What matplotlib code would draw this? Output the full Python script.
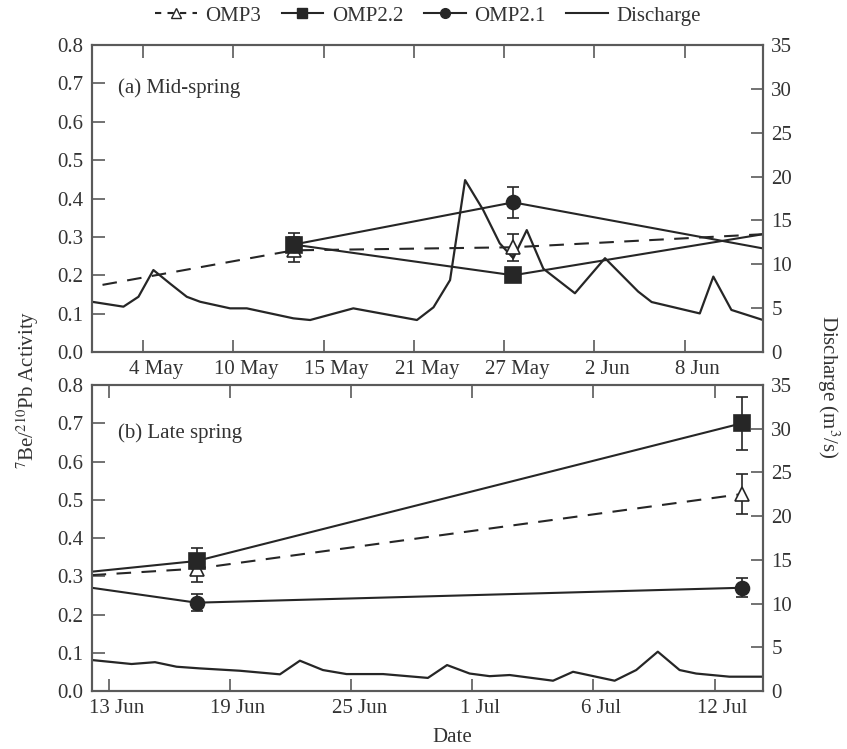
import numpy as np
import matplotlib
matplotlib.use("Agg")
import matplotlib.pyplot as plt
from matplotlib.lines import Line2D
from matplotlib.transforms import ScaledTranslation

plt.rcParams['font.family'] = ['Liberation Serif', 'DejaVu Serif']
plt.rcParams['mathtext.fontset'] = 'stix'

# x values are days from the first tick of each panel
# (a) mid-spring: first tick = "4 May"
a_ticks = [0, 6, 12, 18, 24, 30, 36]
a_ticklabels = ['4 May', '10 May', '15 May', '21 May', '27 May', '2 Jun', '8 Jun']
a_q_day = [-3.41, -1.31, -0.31, 0.68, 1.79, 2.9, 3.79, 5.78, 6.89, 9.99, 11.1, 13.97,
           18.2, 19.3, 20.4, 21.4, 22.6, 23.7, 24.6, 25.5, 26.6, 28.7, 30.7, 32.9,
           33.8, 37.0, 37.9, 39.1, 41.2]
a_q = [5.73, 5.17, 6.3, 9.35, 7.8, 6.3, 5.73, 4.98, 4.98, 3.84, 3.65, 4.98,
       3.65, 5.1, 8.2, 19.6, 16.2, 12.4, 10.7, 13.9, 9.5, 6.7, 10.7, 6.9,
       5.7, 4.4, 8.6, 4.8, 3.65]
a_omp3_day = [-2.7, 10.0, 24.6, 41.2]
a_omp3 = [0.175, 0.265, 0.273, 0.307]
a_omp3_err = [0.0, 0.03, 0.035, 0.0]
a_omp22_day = [10.0, 24.6, 41.2]
a_omp22 = [0.28, 0.20, 0.307]
a_omp22_err = [0.03, 0.012, 0.0]
a_omp21_day = [10.0, 24.6, 41.2]
a_omp21 = [0.28, 0.39, 0.27]
a_omp21_err = [0.02, 0.04, 0.0]

# (b) late spring: first tick = "13 Jun"
b_ticks = [0, 6, 12, 18, 24, 30]
b_ticklabels = ['13 Jun', '19 Jun', '25 Jun', '1 Jul', '6 Jul', '12 Jul']
b_q_day = [-0.86, 1.12, 2.28, 3.35, 4.5, 6.49, 8.47, 9.46, 10.6, 11.77, 13.58, 15.8,
           16.75, 17.87, 18.86, 19.85, 22.0, 22.99, 25.05, 26.12, 27.19, 28.27, 29.09,
           30.74, 32.39]
b_q = [3.55, 3.09, 3.3, 2.78, 2.59, 2.32, 1.91, 3.47, 2.4, 1.94, 1.94, 1.5,
       2.97, 2.0, 1.7, 1.83, 1.18, 2.2, 1.18, 2.4, 4.5, 2.4, 2.0, 1.64, 1.64]
b_omp3_day = [-0.86, 4.34, 31.35]
b_omp3 = [0.303, 0.32, 0.515]
b_omp3_err = [0.0, 0.035, 0.053]
b_omp22_day = [-0.86, 4.34, 31.35]
b_omp22 = [0.312, 0.34, 0.70]
b_omp22_err = [0.0, 0.035, 0.07]
b_omp21_day = [-0.86, 4.34, 31.35]
b_omp21 = [0.27, 0.231, 0.27]
b_omp21_err = [0.0, 0.023, 0.025]

ink = '#262626'
spine_c = '#5a5a5a'
fs = 15

fig = plt.figure(figsize=(8.47, 7.49), dpi=100)
ax_a = fig.add_axes([0.1086, 0.530, 0.7922, 0.4099])
ax_b = fig.add_axes([0.1086, 0.0774, 0.7922, 0.4085])


def draw_series(ax, day, val, err, marks, ls, marker, mfc, ms):
    day = np.array(day)
    val = np.array(val)
    err = np.array(err)
    ax.plot(day, val, color=ink, ls=ls, lw=1.5, dashes=(7, 5) if ls == '--' else (None, None))
    m = np.array(marks)
    ax.errorbar(day[m], val[m], yerr=err[m], fmt=marker, color=ink, mfc=mfc,
                mec=ink, ms=ms, mew=1.2, ecolor=ink, elinewidth=1.2, capsize=4.5,
                ls='none', zorder=5)


def style(ax, axq, ticks, labels, xlim, dx):
    ax.set_xlim(*xlim)
    ax.set_ylim(0, 0.8)
    ax.set_yticks(np.arange(0, 0.81, 0.1))
    ax.set_yticklabels(['%.1f' % v for v in np.arange(0, 0.81, 0.1)])
    ax.set_xticks(ticks)
    ax.set_xticklabels(labels)
    ax.tick_params(axis='both', direction='in', length=9, width=1.2, color=spine_c,
                   labelsize=fs, labelcolor='#333333', pad=6)
    ax.tick_params(axis='x', top=True)
    axq.set_ylim(0, 35)
    axq.set_yticks(np.arange(0, 36, 5))
    axq.tick_params(axis='y', direction='in', length=9, width=1.2, color=spine_c,
                    labelsize=fs, labelcolor='#333333', pad=6)
    for a in (ax, axq):
        for s in a.spines.values():
            s.set_color(spine_c)
            s.set_linewidth(1.5)
    off = ScaledTranslation(dx / 100, 0, fig.dpi_scale_trans)
    for lab in ax.get_xticklabels():
        lab.set_transform(lab.get_transform() + off)


# panel (a)
qa = ax_a.twinx()
qa.plot(a_q_day, a_q, color=ink, lw=1.6)
draw_series(ax_a, a_omp3_day, a_omp3, a_omp3_err, [1, 2], '--', '^', 'white', 10)
draw_series(ax_a, a_omp21_day, a_omp21, a_omp21_err, [0, 1], '-', 'o', ink, 10)
draw_series(ax_a, a_omp22_day, a_omp22, a_omp22_err, [0, 1], '-', 's', ink, 11)
style(ax_a, qa, a_ticks, a_ticklabels, (-3.4, 41.2), 13)
ax_a.text(0.039, 0.86, '(a) Mid-spring', transform=ax_a.transAxes, fontsize=fs,
          color='#333333', va='center')

# panel (b)
qb = ax_b.twinx()
qb.plot(b_q_day, b_q, color=ink, lw=1.6)
draw_series(ax_b, b_omp3_day, b_omp3, b_omp3_err, [1, 2], '--', '^', 'white', 10)
draw_series(ax_b, b_omp21_day, b_omp21, b_omp21_err, [1, 2], '-', 'o', ink, 10)
draw_series(ax_b, b_omp22_day, b_omp22, b_omp22_err, [1, 2], '-', 's', ink, 11)
style(ax_b, qb, b_ticks, b_ticklabels, (-0.84, 32.4), 8)
ax_b.text(0.039, 0.843, '(b) Late spring', transform=ax_b.transAxes, fontsize=fs,
          color='#333333', va='center')

# bring activity axes above the discharge twins
for ax, axq in ((ax_a, qa), (ax_b, qb)):
    ax.set_zorder(axq.get_zorder() + 1)
    ax.patch.set_visible(False)

handles = [
    Line2D([], [], color=ink, ls='--', dashes=(3, 3), marker='^', mfc='white', mec=ink, ms=7),
    Line2D([], [], color=ink, ls='-', marker='s', mfc=ink, mec=ink, ms=7),
    Line2D([], [], color=ink, ls='-', marker='o', mfc=ink, mec=ink, ms=7),
    Line2D([], [], color=ink, ls='-'),
]
fig.legend(handles, ['OMP3', 'OMP2.2', 'OMP2.1', 'Discharge'], loc='center',
           bbox_to_anchor=(0.505, 0.979), ncol=4, frameon=False, fontsize=fs,
           handlelength=2.0, handletextpad=0.4, columnspacing=1.0,
           labelcolor='#333333')

fig.text(0.033, 0.479, '$^{7}$Be/$^{210}$Pb Activity', rotation=90, fontsize=fs,
         color='#333333', ha='center', va='center')
fig.text(0.978, 0.483, 'Discharge (m$^{3}$/s)', rotation=270, fontsize=fs,
         color='#333333', ha='center', va='center')
fig.text(0.534, 0.016, 'Date', fontsize=fs, color='#333333', ha='center', va='center')

fig.savefig('out.png', dpi=100)
